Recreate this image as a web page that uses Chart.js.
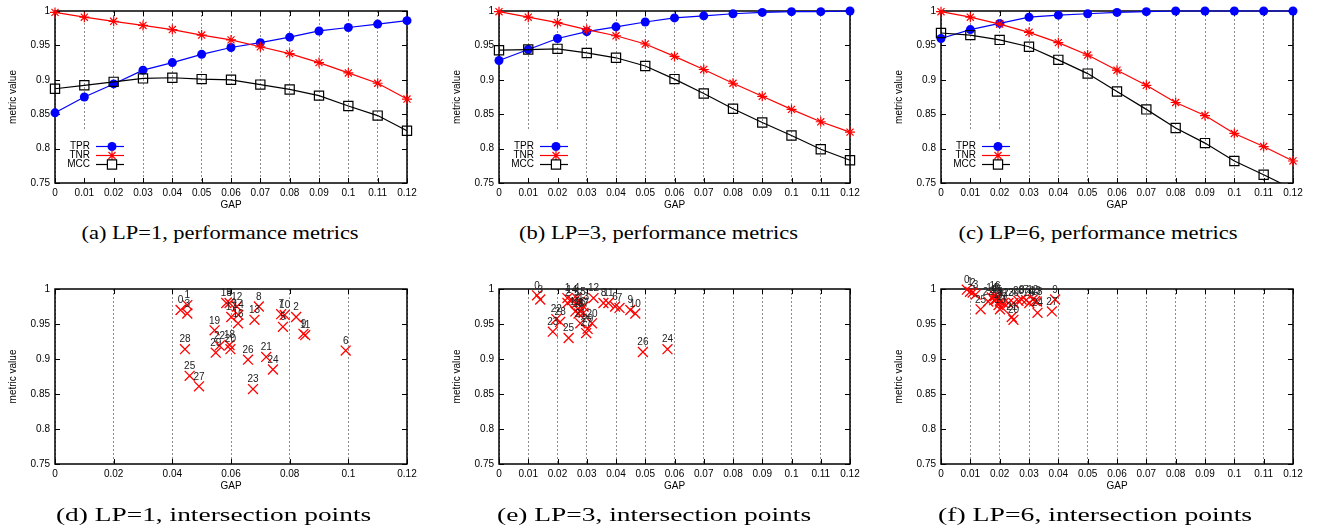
<!DOCTYPE html>
<html>
<head>
<meta charset="utf-8">
<script src="https://cdn.jsdelivr.net/npm/chart.js@4.4.1/dist/chart.umd.min.js"></script>
<style>
  body { margin: 0; background: #fff; width: 1322px; height: 531px; position: relative; overflow: hidden; }
  canvas { position: absolute; }
  .cap { position: absolute; white-space: nowrap; font-family: 'Liberation Serif', 'Times New Roman', serif; font-size: 18px; line-height: 18px; color: #000; transform-origin: center center; }
</style>
</head>
<body>
<script>
// x positions shared by the three performance plots
const gap = [0, 0.01, 0.02, 0.03, 0.04, 0.05, 0.06, 0.07, 0.08, 0.09, 0.1, 0.11, 0.12];

// LP=1
const tprLP1 = [0.852, 0.875, 0.894, 0.914, 0.925, 0.937, 0.947, 0.954, 0.962, 0.971, 0.976, 0.981, 0.986];
const tnrLP1 = [0.998, 0.991, 0.985, 0.979, 0.973, 0.965, 0.958, 0.948, 0.938, 0.925, 0.910, 0.895, 0.872];
const mccLP1 = [0.887, 0.892, 0.897, 0.902, 0.903, 0.901, 0.900, 0.893, 0.886, 0.877, 0.862, 0.848, 0.826];
// LP=3
const tprLP3 = [0.928, 0.944, 0.960, 0.970, 0.977, 0.984, 0.990, 0.993, 0.996, 0.998, 0.999, 0.999, 1.0];
const tnrLP3 = [0.999, 0.991, 0.983, 0.973, 0.964, 0.952, 0.934, 0.915, 0.895, 0.876, 0.857, 0.839, 0.824];
const mccLP3 = [0.943, 0.944, 0.945, 0.939, 0.932, 0.920, 0.901, 0.880, 0.858, 0.838, 0.819, 0.799, 0.783];
// LP=6
const tprLP6 = [0.960, 0.973, 0.982, 0.991, 0.994, 0.996, 0.998, 0.999, 1.0, 1.0, 1.0, 1.0, 1.0];
const tnrLP6 = [0.999, 0.991, 0.981, 0.969, 0.954, 0.936, 0.914, 0.892, 0.867, 0.848, 0.822, 0.803, 0.782];
const mccLP6 = [0.968, 0.965, 0.958, 0.948, 0.929, 0.909, 0.883, 0.857, 0.830, 0.808, 0.782, 0.762, 0.741];

// intersection points, listed by id 0..29
const pointIds = ['0','1','2','3','4','5','6','7','8','9','10','11','12','13','14','15','16','17','18','19','20','21','22','23','24','25','26','27','28','29'];
const ipLP1X = [0.0428, 0.0451, 0.0822, 0.0451, 0.0595, 0.0777, 0.0991, 0.0771, 0.0695, 0.0847, 0.0783, 0.0853, 0.0620, 0.0680, 0.0625,
                0.0584, 0.0624, 0.0601, 0.0595, 0.0544, 0.0598, 0.0720, 0.0561, 0.0675, 0.0743, 0.0459, 0.0658, 0.0491, 0.0443, 0.0548];
const ipLP1Y = [0.970, 0.977, 0.960, 0.965, 0.980, 0.946, 0.912, 0.964, 0.975, 0.936, 0.963, 0.934, 0.975, 0.956, 0.963,
                0.980, 0.951, 0.960, 0.920, 0.941, 0.914, 0.903, 0.919, 0.857, 0.885, 0.876, 0.899, 0.861, 0.914, 0.909];
const ipLP3X = [0.0130, 0.0234, 0.0234, 0.0141, 0.0266, 0.0266, 0.0397, 0.0412, 0.0357, 0.0449, 0.0466, 0.0374, 0.0323, 0.0289, 0.0249,
                0.0278, 0.0278, 0.0289, 0.0272, 0.0261, 0.0318, 0.0278, 0.0196, 0.0184, 0.0576, 0.0238, 0.0492, 0.0298, 0.0209, 0.0303];
const ipLP3Y = [0.991, 0.987, 0.980, 0.985, 0.987, 0.980, 0.975, 0.973, 0.980, 0.970, 0.965, 0.980, 0.987, 0.975, 0.984,
                0.982, 0.968, 0.966, 0.965, 0.968, 0.951, 0.951, 0.957, 0.939, 0.914, 0.930, 0.910, 0.937, 0.953, 0.943];
const ipLP6X = [0.0088, 0.0099, 0.0108, 0.0118, 0.0181, 0.0201, 0.0192, 0.0290, 0.0275, 0.0389, 0.0201, 0.0213, 0.0313, 0.0321, 0.0173,
                0.0188, 0.0184, 0.0196, 0.0327, 0.0207, 0.0247, 0.0241, 0.0161, 0.0230, 0.0329, 0.0135, 0.0301, 0.0378, 0.0264, 0.0247];
const ipLP6Y = [0.999, 0.996, 0.995, 0.992, 0.984, 0.982, 0.988, 0.984, 0.985, 0.985, 0.971, 0.980, 0.985, 0.983, 0.988,
                0.985, 0.990, 0.977, 0.982, 0.974, 0.956, 0.960, 0.982, 0.980, 0.966, 0.971, 0.980, 0.968, 0.983, 0.980];

Chart.defaults.font.family = "'Liberation Sans', Arial, sans-serif";
Chart.defaults.font.size = 10;
Chart.defaults.color = '#000';

const fmt = v => +(+v).toFixed(2);

// draws the gnuplot style box, inward ticks, key and point labels
const gnuplotLook = {
  id: 'gnuplotLook',
  beforeDatasetsDraw(chart, args, opts) {
    const { ctx, chartArea: a, scales: { x, y } } = chart;
    ctx.save();
    if (opts.legend) {
      ctx.fillStyle = '#fff';
      ctx.fillRect(a.left + 1, a.bottom - 52, 76, 51);
    }
    ctx.strokeStyle = '#000';
    ctx.lineWidth = 1;
    ctx.beginPath();
    y.ticks.forEach(t => {
      const py = Math.round(y.getPixelForValue(t.value)) + 0.5;
      ctx.moveTo(a.left, py); ctx.lineTo(a.left + 5, py);
      ctx.moveTo(a.right, py); ctx.lineTo(a.right - 5, py);
    });
    x.ticks.forEach(t => {
      const px = Math.round(x.getPixelForValue(t.value)) + 0.5;
      ctx.moveTo(px, a.bottom); ctx.lineTo(px, a.bottom - 5);
      ctx.moveTo(px, a.top); ctx.lineTo(px, a.top + 5);
    });
    ctx.stroke();
    ctx.lineWidth = 1.5;
    ctx.strokeRect(a.left, a.top, a.right - a.left, a.bottom - a.top);
    ctx.restore();
  },
  afterDatasetsDraw(chart, args, opts) {
    const { ctx, chartArea: a } = chart;
    ctx.save();
    ctx.font = "10px 'Liberation Sans', Arial, sans-serif";
    if (opts.legend) {
      chart.data.datasets.forEach((ds, i) => {
        const yy = a.bottom - 36.5 + i * 9;
        ctx.fillStyle = '#000';
        ctx.textAlign = 'right';
        ctx.textBaseline = 'middle';
        ctx.fillText(ds.label, a.left + 35, yy);
        ctx.strokeStyle = ds.borderColor;
        ctx.lineWidth = 1.2;
        ctx.beginPath();
        ctx.moveTo(a.left + 41, yy); ctx.lineTo(a.left + 69, yy);
        ctx.stroke();
        const mx = a.left + 57, r = ds.pointRadius;
        ctx.beginPath();
        if (ds.pointStyle === 'circle') {
          ctx.fillStyle = ds.borderColor;
          ctx.arc(mx, yy, r, 0, Math.PI * 2);
          ctx.fill();
        } else if (ds.pointStyle === 'star') {
          const d = r * Math.SQRT1_2;
          ctx.moveTo(mx - r, yy); ctx.lineTo(mx + r, yy);
          ctx.moveTo(mx, yy - r); ctx.lineTo(mx, yy + r);
          ctx.moveTo(mx - d, yy - d); ctx.lineTo(mx + d, yy + d);
          ctx.moveTo(mx - d, yy + d); ctx.lineTo(mx + d, yy - d);
          ctx.stroke();
        } else {
          const s = r * Math.SQRT1_2;
          ctx.fillStyle = '#fff';
          ctx.rect(mx - s, yy - s, 2 * s, 2 * s);
          ctx.fill();
          ctx.stroke();
        }
      });
    }
    if (opts.labels) {
      ctx.fillStyle = '#222';
      ctx.textAlign = 'center';
      ctx.textBaseline = 'middle';
      chart.getDatasetMeta(0).data.forEach((pt, i) => {
        ctx.fillText(opts.labels[i], pt.x, pt.y - 9.5);
      });
    }
    ctx.restore();
  }
};

const toXY = (xs, ys) => xs.map((v, i) => ({ x: v, y: ys[i] }));

function perfSets(tpr, tnr, mcc) {
  const hideLow = r => ctx => (ctx.raw && ctx.raw.y < 0.75 ? 0 : r);
  const clip = { left: 8, top: 8, right: 8, bottom: 0 };
  return [
    { label: 'TPR', data: toXY(gap, tpr), borderColor: '#0000ff', backgroundColor: '#0000ff', pointBackgroundColor: '#0000ff',
      pointStyle: 'circle', pointRadius: 4.5, radius: hideLow(4.5), borderWidth: 1.2, pointBorderWidth: 0, order: 2, clip },
    { label: 'TNR', data: toXY(gap, tnr), borderColor: '#ff0000', backgroundColor: '#ff0000', pointBackgroundColor: '#ff0000',
      pointStyle: 'star', pointRadius: 5, radius: hideLow(5), borderWidth: 1.2, pointBorderWidth: 1.2, order: 1, clip },
    { label: 'MCC', data: toXY(gap, mcc), borderColor: '#000000', backgroundColor: '#000000', pointBackgroundColor: 'rgba(0,0,0,0)',
      pointStyle: 'rect', pointRadius: 6.5, radius: hideLow(6.5), borderWidth: 1.2, pointBorderWidth: 1.2, order: 0, clip }
  ];
}

function pointSet(xs, ys) {
  return [{ label: 'points', data: toXY(xs, ys), showLine: false, pointStyle: 'crossRot', pointRadius: 7,
            borderColor: '#ff0000', backgroundColor: '#ff0000', pointBorderWidth: 1.3, clip: false }];
}

const panels = [
  { left: 0,   top: 0,   w: 440, h: 215, area: [55, 6, 407, 183],  step: 0.01, sets: perfSets(tprLP1, tnrLP1, mccLP1), legend: true },
  { left: 440, top: 0,   w: 440, h: 215, area: [59, 7, 410, 183],  step: 0.01, sets: perfSets(tprLP3, tnrLP3, mccLP3), legend: true },
  { left: 880, top: 0,   w: 442, h: 215, area: [61, 7, 413, 183],  step: 0.01, sets: perfSets(tprLP6, tnrLP6, mccLP6), legend: true },
  { left: 0,   top: 260, w: 440, h: 271, area: [55, 29, 407, 204], step: 0.02, sets: pointSet(ipLP1X, ipLP1Y), labels: pointIds },
  { left: 440, top: 260, w: 440, h: 271, area: [59, 29, 410, 204], step: 0.01, sets: pointSet(ipLP3X, ipLP3Y), labels: pointIds },
  { left: 880, top: 260, w: 442, h: 271, area: [61, 29, 413, 204], step: 0.01, sets: pointSet(ipLP6X, ipLP6Y), labels: pointIds }
];

panels.forEach(p => {
  const cv = document.createElement('canvas');
  cv.width = p.w; cv.height = p.h;
  cv.style.left = p.left + 'px'; cv.style.top = p.top + 'px';
  cv.style.width = p.w + 'px'; cv.style.height = p.h + 'px';
  document.body.appendChild(cv);
  const [L, T, R, B] = p.area;
  new Chart(cv, {
    type: p.legend ? 'line' : 'scatter',
    data: { datasets: p.sets },
    options: {
      responsive: false,
      animation: false,
      devicePixelRatio: 1,
      layout: { padding: { left: 0, top: T, right: p.w - R, bottom: 0 } },
      elements: { line: { tension: 0 } },
      plugins: {
        legend: { display: false },
        tooltip: { enabled: false },
        gnuplotLook: { legend: !!p.legend, labels: p.labels || null }
      },
      scales: {
        x: {
          type: 'linear', min: 0, max: 0.12,
          ticks: { stepSize: p.step, callback: fmt, padding: 4, autoSkip: false, maxRotation: 0 },
          grid: { color: '#8c8c8c', lineWidth: 1, drawTicks: false },
          border: { display: false, dash: [2, 2] },
          title: { display: true, text: 'GAP', font: { size: 10 }, padding: { top: 0, bottom: p.h - 6 - (B + 22) } },
          afterFit: s => { s.height = p.h - B; }
        },
        y: {
          type: 'linear', min: 0.75, max: 1,
          ticks: { stepSize: 0.05, callback: fmt, padding: 5 },
          grid: { display: false, drawTicks: false },
          border: { display: false },
          title: { display: true, text: 'metric value', font: { size: 10 }, padding: { top: L - 42 - 6, bottom: 0 } },
          afterFit: s => { s.width = L; }
        }
      }
    },
    plugins: [gnuplotLook]
  });
});

// sub-figure captions
const captions = [
  { text: '(a) LP=1, performance metrics', cx: 220,  base: 239, w: 277 },
  { text: '(b) LP=3, performance metrics', cx: 658,  base: 239, w: 279 },
  { text: '(c) LP=6, performance metrics', cx: 1098, base: 239, w: 279 },
  { text: '(d) LP=1, intersection points', cx: 213,  base: 521, w: 315 },
  { text: '(e) LP=3, intersection points', cx: 654,  base: 521, w: 314 },
  { text: '(f) LP=6, intersection points', cx: 1095, base: 521, w: 314 }
];
captions.forEach(c => {
  const d = document.createElement('div');
  d.className = 'cap';
  d.textContent = c.text;
  document.body.appendChild(d);
  const nat = d.offsetWidth;
  d.style.left = (c.cx - nat / 2) + 'px';
  d.style.top = (c.base - 15) + 'px';
  d.style.transform = 'scaleX(' + (c.w / nat).toFixed(3) + ')';
});
</script>
</body>
</html>
